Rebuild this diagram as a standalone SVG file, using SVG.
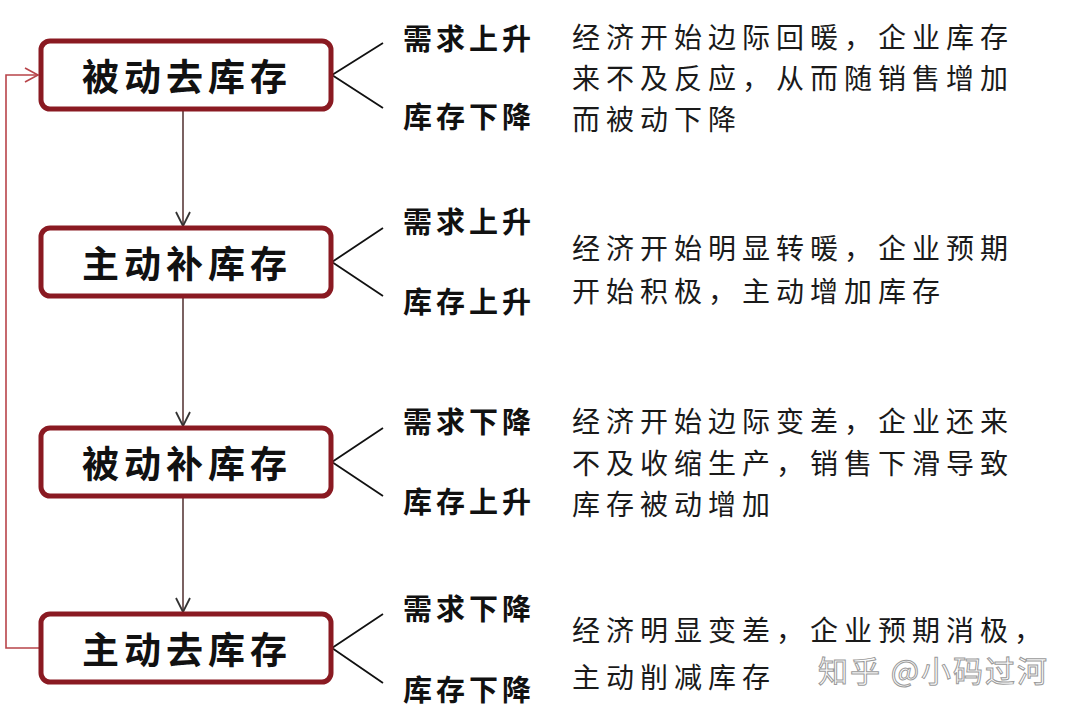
<svg xmlns="http://www.w3.org/2000/svg" width="1080" height="715" viewBox="0 0 1080 715">
<defs>
<style>
.box{fill:#fff;stroke:#8a1a22;stroke-width:5}
.bt{font-family:"Noto Sans CJK SC","Noto Sans",sans-serif;font-size:37px;font-weight:700;letter-spacing:5px;fill:#111;dominant-baseline:central}
.lb{font-family:"Noto Sans CJK SC","Noto Sans",sans-serif;font-size:29px;font-weight:700;letter-spacing:4px;fill:#111;dominant-baseline:central}
.ds{font-family:"Noto Sans CJK SC","Noto Sans",sans-serif;font-size:28px;font-weight:400;letter-spacing:6px;fill:#1a1a1a;dominant-baseline:central}
.br{stroke:#111;stroke-width:1.8;fill:none}
.dn{stroke:#5a3a3a;stroke-width:1.6;fill:none}
.ah{stroke:#333;stroke-width:1.8;fill:none}
.lp{stroke:#b8444a;stroke-width:1.6;fill:none}
.wm{font-family:"Noto Sans CJK SC","Noto Sans",sans-serif;font-size:30px;letter-spacing:2px;fill:#fff;stroke:#9a9a9a;stroke-width:1;dominant-baseline:central}
</style>
</defs>
<rect width="1080" height="715" fill="#fff"/>
<g id="connectors">
<line class="dn" x1="183" y1="111" x2="183" y2="226"/>
<path class="ah" d="M176,212 L183,226 L190,212"/>
<line class="dn" x1="183" y1="298" x2="183" y2="426"/>
<path class="ah" d="M176,412 L183,426 L190,412"/>
<line class="dn" x1="183" y1="498" x2="183" y2="612"/>
<path class="ah" d="M176,598 L183,612 L190,598"/>
<polyline class="lp" points="39,648 6,648 6,75 38,75"/>
<path class="lp" d="M25,68 L38,75 L25,82"/>
<polyline class="br" points="383,43 332,75 383,108"/>
<polyline class="br" points="383,228 332,262 383,296"/>
<polyline class="br" points="383,428 332,462 383,496"/>
<polyline class="br" points="383,614 332,648 383,683"/>
</g>
<g id="node1">
<rect class="box" x="41" y="41" width="290" height="68" rx="9"/>
<text class="bt" x="82" y="75">被动去库存</text>
<text class="lb" x="403" y="37">需求上升</text>
<text class="lb" x="403" y="115">库存下降</text>
<text class="ds" x="572" y="36">经济开始边际回暖，企业库存</text>
<text class="ds" x="572" y="77">来不及反应，从而随销售增加</text>
<text class="ds" x="572" y="118">而被动下降</text>
</g>
<g id="node2">
<rect class="box" x="41" y="228" width="290" height="68" rx="9"/>
<text class="bt" x="82" y="262">主动补库存</text>
<text class="lb" x="403" y="220">需求上升</text>
<text class="lb" x="403" y="300">库存上升</text>
<text class="ds" x="572" y="247">经济开始明显转暖，企业预期</text>
<text class="ds" x="572" y="290">开始积极，主动增加库存</text>
</g>
<g id="node3">
<rect class="box" x="41" y="428" width="290" height="68" rx="9"/>
<text class="bt" x="82" y="462">被动补库存</text>
<text class="lb" x="403" y="420">需求下降</text>
<text class="lb" x="403" y="500">库存上升</text>
<text class="ds" x="572" y="420">经济开始边际变差，企业还来</text>
<text class="ds" x="572" y="462">不及收缩生产，销售下滑导致</text>
<text class="ds" x="572" y="503">库存被动增加</text>
</g>
<g id="node4">
<rect class="box" x="41" y="614" width="290" height="68" rx="9"/>
<text class="bt" x="82" y="648">主动去库存</text>
<text class="lb" x="403" y="607">需求下降</text>
<text class="lb" x="403" y="688">库存下降</text>
<text class="ds" x="572" y="629">经济明显变差，企业预期消极，</text>
<text class="ds" x="572" y="676">主动削减库存</text>
</g>
<g id="watermark">
<text class="wm" x="818" y="669">知乎 @小码过河</text>
</g>
</svg>
